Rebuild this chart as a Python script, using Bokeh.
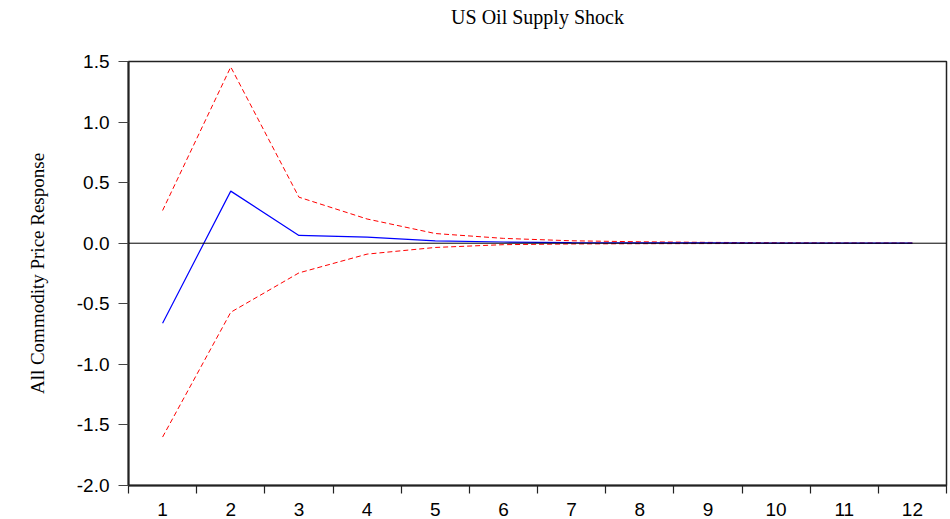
from bokeh.plotting import figure
from bokeh.models import FixedTicker, Span, Range1d, Title
from bokeh.embed import file_html
from bokeh.resources import INLINE

# Impulse response of the all-commodity price index to a US oil supply shock
periods = [1, 2, 3, 4, 5, 6, 7, 8, 9, 10, 11, 12]
response = [-0.66, 0.43, 0.064, 0.05, 0.02, 0.01, 0.005, 0.003, 0.002, 0.001, 0.001, 0.0]
upper_band = [0.27, 1.455, 0.38, 0.2, 0.08, 0.04, 0.02, 0.012, 0.007, 0.004, 0.002, 0.001]
lower_band = [-1.6, -0.57, -0.245, -0.09, -0.035, -0.012, -0.006, -0.004, -0.003, -0.002, -0.001, -0.001]

y_ticks = [-2.0, -1.5, -1.0, -0.5, 0.0, 0.5, 1.0, 1.5]
y_tick_labels = ["-2.0", "-1.5", "-1.0", "-0.5", "0.0", "0.5", "1.0", "1.5"]
x_tick_labels = [str(k) for k in periods]
chart_title = "US Oil Supply Shock"

p = figure(width=950, height=519, output_backend="svg", toolbar_location=None,
           title=None,
           x_range=Range1d(0.5, 12.5), y_range=Range1d(-2.0, 1.5),
           min_border_left=128, min_border_right=4, min_border_bottom=34,
           min_border_top=0)

# blank band between the heading and the frame
p.add_layout(Title(text=" ", text_font_size="20px", standoff=4), "above")
# heading, stacked above the blank band
p.add_layout(Title(text=chart_title, align="center", vertical_align="middle",
                   text_font="Liberation Serif", text_font_style="normal",
                   text_font_size="20px", text_color="black", standoff=9), "above")

p.grid.visible = False
p.outline_line_color = "#222222"
p.outline_line_width = 1.5
p.background_fill_color = "white"
p.border_fill_color = "white"

# x axis: labels centred on periods, ticks on period boundaries
p.xaxis.ticker = FixedTicker(ticks=periods, minor_ticks=[k + 0.5 for k in range(0, 13)])
p.xaxis.major_label_overrides = {k: lab for k, lab in zip(periods, x_tick_labels)}
p.xaxis.major_tick_line_color = None
p.xaxis.minor_tick_out = 8
p.xaxis.minor_tick_in = 0
p.xaxis.minor_tick_line_color = "#222222"
p.xaxis.minor_tick_line_width = 1.2

p.yaxis.ticker = FixedTicker(ticks=y_ticks)
p.yaxis.major_label_overrides = {t: lab for t, lab in zip(y_ticks, y_tick_labels)}
p.yaxis.major_tick_out = 10
p.yaxis.major_tick_in = 0
p.yaxis.minor_tick_line_color = None
p.yaxis.major_tick_line_color = "#444444"
p.yaxis.major_tick_line_width = 1.2
p.yaxis.axis_label = "All Commodity Price Response"
p.yaxis.axis_label_text_font = "Liberation Serif"
p.yaxis.axis_label_text_font_style = "normal"
p.yaxis.axis_label_text_font_size = "19px"
p.yaxis.axis_label_text_color = "black"
p.yaxis.axis_label_standoff = 26

for ax in (p.xaxis, p.yaxis):
    ax.axis_line_color = "#222222"
    ax.axis_line_width = 2
    ax.major_label_text_font = "Liberation Sans"
    ax.major_label_text_font_size = "19px"
    ax.major_label_text_color = "black"
p.xaxis.major_label_standoff = 9
p.yaxis.major_label_standoff = 9

p.add_layout(Span(location=0, dimension="width", line_color="black", line_width=1))

p.line(periods, upper_band, line_color="red", line_width=1, line_dash="5 3")
p.line(periods, lower_band, line_color="red", line_width=1, line_dash="5 3")
p.line(periods, response, line_color="blue", line_width=1.2)

open("out.html", "w").write(file_html(p, INLINE))
